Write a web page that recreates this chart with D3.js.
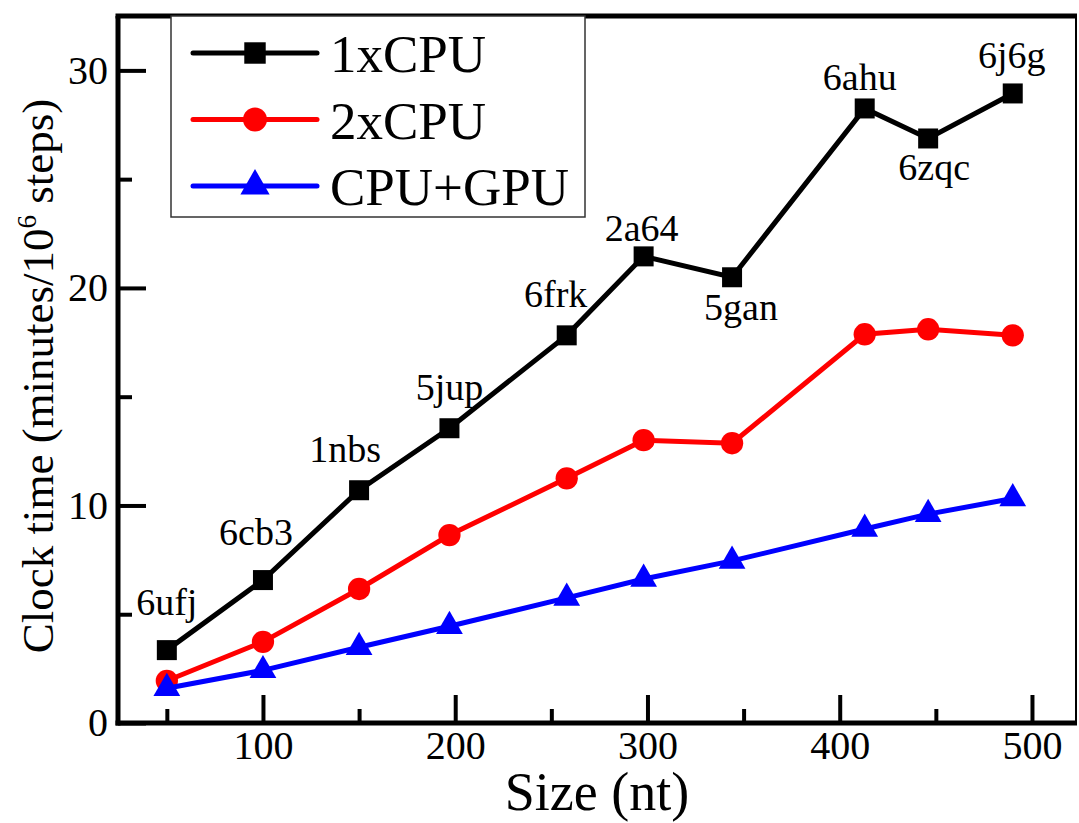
<!DOCTYPE html>
<html>
<head>
<meta charset="utf-8">
<script src="https://cdn.jsdelivr.net/npm/d3@7"></script>
<style>
  body { margin: 0; background: #fff; }
  text { font-family: "Liberation Serif", "Times New Roman", serif; fill: #000; }
</style>
</head>
<body>
<div id="chart"></div>
<script>
// data
const sizes = [50, 100, 150, 197, 258, 298, 344, 413, 446, 490];
const pdbIds = ["6ufj", "6cb3", "1nbs", "5jup", "6frk", "2a64", "5gan", "6ahu", "6zqc", "6j6g"];
const cpu1 = [3.35, 6.57, 10.7, 13.55, 17.82, 21.45, 20.49, 28.25, 26.87, 28.94];
const cpu2 = [1.94, 3.73, 6.16, 8.64, 11.25, 13.0, 12.86, 17.87, 18.1, 17.82];
const cpuGpu = [1.6, 2.42, 3.48, 4.45, 5.75, 6.62, 7.45, 8.92, 9.6, 10.32];
const xTicks = [100, 200, 300, 400, 500];
const xMinor = [50, 150, 250, 350, 450];
const yTicks = [0, 10, 20, 30];
const yMinor = [5, 15, 25];

// label placement relative to the 1xCPU marker (px)
const labelOffsets = [[0, -35], [-7, -35], [-14, -28], [0, -28], [-11, -28],
  [-2, -15], [9, 43], [-5, -18], [6, 42], [-1, -25]];

const W = 1079, H = 823;
const pLeft = 118, pRight = 1076, pTop = 16, pBottom = 723;

const svg = d3.select("#chart").append("svg")
  .attr("width", W).attr("height", H);

const x = d3.scaleLinear().domain([24.6, 522.9]).range([pLeft, pRight]);
const y = d3.scaleLinear().domain([0, 32.5]).range([pBottom, pTop]);

const series = [
  { name: "1xCPU", values: cpu1, color: "#000000", symbol: d3.symbolSquare, size: 400 },
  { name: "2xCPU", values: cpu2, color: "#ff0000", symbol: d3.symbolCircle, size: 390 },
  { name: "CPU+GPU", values: cpuGpu, color: "#0000ff", symbol: d3.symbolTriangle, size: 310 }
];

// axes (ticks point inward)
function styleAxis(g) {
  g.select(".domain").remove();
  g.selectAll(".tick line").attr("stroke", "#000").attr("stroke-width", 4);
  g.selectAll(".tick text").style("font-size", "40px").style("font-family", "Liberation Serif, serif");
}

svg.append("g").attr("transform", `translate(0,${pBottom})`)
  .call(d3.axisBottom(x).tickValues(xTicks).tickSizeInner(-28).tickPadding(8).tickFormat(d3.format("d")))
  .call(styleAxis);
svg.append("g").attr("transform", `translate(0,${pBottom})`)
  .call(d3.axisBottom(x).tickValues(xMinor).tickSizeInner(-14).tickFormat(""))
  .call(styleAxis);
svg.append("g").attr("transform", `translate(${pLeft},0)`)
  .call(d3.axisLeft(y).tickValues(yTicks).tickSizeInner(-28).tickPadding(10).tickFormat(d3.format("d")))
  .call(styleAxis);
svg.append("g").attr("transform", `translate(${pLeft},0)`)
  .call(d3.axisLeft(y).tickValues(yMinor).tickSizeInner(-14).tickFormat(""))
  .call(styleAxis);

// frame
svg.append("line").attr("x1", pRight).attr("x2", pRight).attr("y1", pTop).attr("y2", pBottom)
  .attr("stroke", "#000").attr("stroke-width", 2);
svg.append("line").attr("x1", pLeft - 2.5).attr("x2", pRight + 1).attr("y1", pTop).attr("y2", pTop)
  .attr("stroke", "#000").attr("stroke-width", 5);
svg.append("line").attr("x1", pLeft).attr("x2", pLeft).attr("y1", pTop).attr("y2", pBottom + 2.5)
  .attr("stroke", "#000").attr("stroke-width", 5);
svg.append("line").attr("x1", pLeft - 2.5).attr("x2", pRight + 1).attr("y1", pBottom).attr("y2", pBottom)
  .attr("stroke", "#000").attr("stroke-width", 5);

// lines and markers
const line = d3.line().x((d, i) => x(sizes[i])).y(d => y(d));
series.forEach(s => {
  svg.append("path").datum(s.values)
    .attr("d", line).attr("fill", "none")
    .attr("stroke", s.color).attr("stroke-width", 5);
  svg.append("g").selectAll("path").data(s.values).join("path")
    .attr("transform", (d, i) => `translate(${x(sizes[i])},${y(d)})`)
    .attr("d", d3.symbol().type(s.symbol).size(s.size))
    .attr("fill", s.color);
});

// structure labels
svg.append("g").selectAll("text").data(pdbIds).join("text")
  .attr("x", (d, i) => x(sizes[i]) + labelOffsets[i][0])
  .attr("y", (d, i) => y(cpu1[i]) + labelOffsets[i][1])
  .attr("text-anchor", "middle")
  .style("font-size", "38px")
  .text(d => d);

// legend
const lg = svg.append("g");
lg.append("rect").attr("x", 171).attr("y", pTop).attr("width", 414).attr("height", 201)
  .attr("fill", "#fff").attr("stroke", "#333").attr("stroke-width", 1.5);
series.forEach((s, i) => {
  const ly = 53 + i * 66.5;
  lg.append("line").attr("x1", 193).attr("x2", 317).attr("y1", ly).attr("y2", ly)
    .attr("stroke", s.color).attr("stroke-width", 5).attr("stroke-linecap", "round");
  lg.append("path").attr("transform", `translate(255,${ly})`)
    .attr("d", d3.symbol().type(s.symbol).size(s.size + 60)).attr("fill", s.color);
  lg.append("text").attr("x", 330).attr("y", ly + 19)
    .style("font-size", "53px").text(s.name);
});

// axis titles
svg.append("text").attr("x", (pLeft + pRight) / 2).attr("y", 810)
  .attr("text-anchor", "middle").style("font-size", "54px").text("Size (nt)");

const yt = svg.append("text")
  .attr("transform", "translate(53,376) rotate(-90)")
  .attr("text-anchor", "middle").style("font-size", "45px");
yt.append("tspan").text("Clock time (minutes/10");
yt.append("tspan").attr("dy", -17).style("font-size", "27px").text("6");
yt.append("tspan").attr("dy", 17).text(" steps)");
</script>
</body>
</html>
